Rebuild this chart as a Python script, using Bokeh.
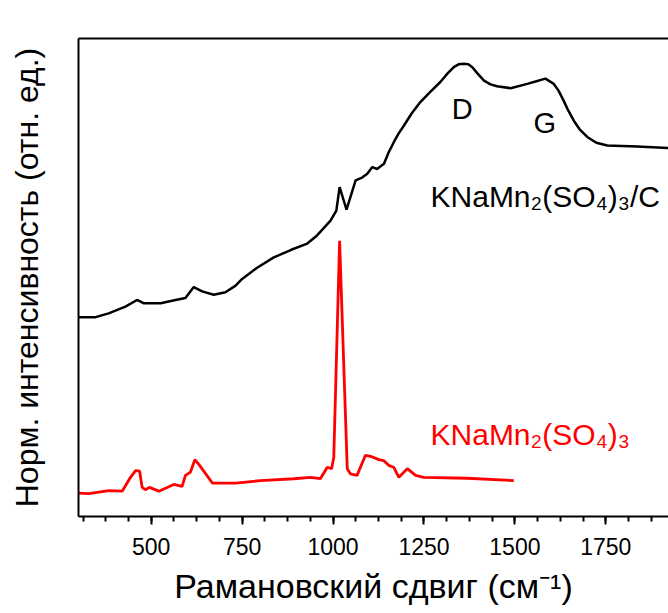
from bokeh.plotting import figure
from bokeh.models import Range1d, FixedTicker, LinearAxis, Label
from bokeh.embed import file_html
from bokeh.resources import INLINE

# Raman shift (cm^-1) and normalized intensity (a.u.)
carbon_x = [300, 347, 383, 429, 461, 480, 526, 567, 594, 617, 640, 672, 704, 732, 750,
            790, 837, 885, 929, 956, 993, 1009, 1018, 1037, 1062, 1080, 1094, 1108, 1121,
            1140, 1153, 1167, 1180, 1195, 1216, 1240, 1268, 1295, 1315, 1332, 1345, 1360,
            1372, 1383, 1397, 1415, 1433, 1451, 1488, 1534, 1552, 1584, 1607, 1620, 1634,
            1647, 1662, 1678, 1699, 1724, 1754, 1836, 1922]
carbon_y = [0.417, 0.417, 0.425, 0.439, 0.453, 0.446, 0.446, 0.453, 0.457, 0.480, 0.471,
            0.464, 0.469, 0.483, 0.497, 0.520, 0.542, 0.558, 0.571, 0.588, 0.619, 0.640,
            0.689, 0.642, 0.703, 0.709, 0.717, 0.731, 0.727, 0.738, 0.762, 0.783, 0.801,
            0.818, 0.843, 0.867, 0.889, 0.909, 0.927, 0.940, 0.946, 0.947, 0.946, 0.940,
            0.927, 0.912, 0.904, 0.900, 0.896, 0.905, 0.909, 0.916, 0.905, 0.891, 0.870,
            0.849, 0.828, 0.810, 0.794, 0.782, 0.776, 0.774, 0.771]

sulfate_x = [300, 328, 383, 420, 443, 457, 468, 475, 484, 495, 521, 562, 585, 594, 608,
             620, 631, 668, 732, 800, 892, 938, 965, 984, 996, 1002, 1018, 1039, 1048,
             1066, 1089, 1103, 1126, 1139, 1153, 1167, 1181, 1204, 1227, 1249, 1369, 1497]
sulfate_y = [0.049, 0.048, 0.054, 0.053, 0.082, 0.096, 0.095, 0.061, 0.056, 0.061, 0.053,
             0.067, 0.063, 0.086, 0.093, 0.119, 0.109, 0.070, 0.070, 0.075, 0.079, 0.082,
             0.079, 0.103, 0.100, 0.124, 0.577, 0.100, 0.089, 0.086, 0.128, 0.126, 0.119,
             0.117, 0.107, 0.103, 0.082, 0.100, 0.086, 0.082, 0.080, 0.075]

major_ticks = [500, 750, 1000, 1250, 1500, 1750]
minor_ticks = [312.5 + 62.5 * i for i in range(26)]

x_title = "Рамановский сдвиг (см⁻¹)"
y_title = "Норм. интенсивность (отн. ед.)"

FONT = "Liberation Sans"

p = figure(width=668, height=613, output_backend="svg", toolbar_location=None,
           x_range=Range1d(300, 1922.4), y_range=Range1d(0, 1),
           min_border_left=78, min_border_right=0, min_border_top=38, min_border_bottom=97)
p.grid.visible = False
p.outline_line_color = None
p.background_fill_color = "white"
p.border_fill_color = "white"

xa = p.xaxis[0]
xa.ticker = FixedTicker(ticks=major_ticks, minor_ticks=minor_ticks)
xa.axis_line_width = 2
xa.axis_line_color = "black"
xa.major_tick_line_width = 2
xa.minor_tick_line_width = 2
xa.major_tick_out = 8
xa.major_tick_in = 0
xa.minor_tick_out = 5
xa.minor_tick_in = 0
xa.major_label_text_font = FONT
xa.major_label_text_font_size = "23px"
xa.major_label_text_color = "black"
xa.major_label_standoff = 13
xa.axis_label = x_title
xa.axis_label_text_font = FONT
xa.axis_label_text_font_size = "34px"
xa.axis_label_text_font_style = "normal"
xa.axis_label_text_color = "black"
xa.axis_label_standoff = 9

ya = p.yaxis[0]
ya.ticker = FixedTicker(ticks=[])
ya.axis_line_width = 2
ya.axis_line_color = "black"
ya.major_tick_out = 0
ya.major_tick_in = 0
ya.minor_tick_out = 0
ya.minor_tick_in = 0
ya.major_label_text_font_size = "0px"
ya.axis_label = y_title
ya.axis_label_text_font = FONT
ya.axis_label_text_font_size = "32px"
ya.axis_label_text_font_style = "normal"
ya.axis_label_text_color = "black"
ya.axis_label_standoff = 34

top = LinearAxis(ticker=FixedTicker(ticks=[]), axis_line_width=2, axis_line_color="black",
                 major_tick_out=0, major_tick_in=0, minor_tick_out=0, minor_tick_in=0,
                 major_label_text_font_size="0px")
p.add_layout(top, "above")

p.line(carbon_x, carbon_y, line_color="black", line_width=2.5)
p.line(sulfate_x, sulfate_y, line_color="#ff0000", line_width=2.8)

labels = [
    (1355, 0.852, "D", "black", "center", "29px"),
    (1582, 0.824, "G", "black", "center", "29px"),
    (1268, 0.670, "KNaMn₂(SO₄)₃/C", "black", "left", "30px"),
    (1268, 0.172, "KNaMn₂(SO₄)₃", "#ff0000", "left", "30px"),
]
for lx, ly, txt, col, al, fs in labels:
    p.add_layout(Label(x=lx, y=ly, text=txt, text_color=col, text_align=al,
                       text_baseline="alphabetic", text_font=FONT, text_font_size=fs))

open("out.html", "w").write(file_html(p, INLINE))
